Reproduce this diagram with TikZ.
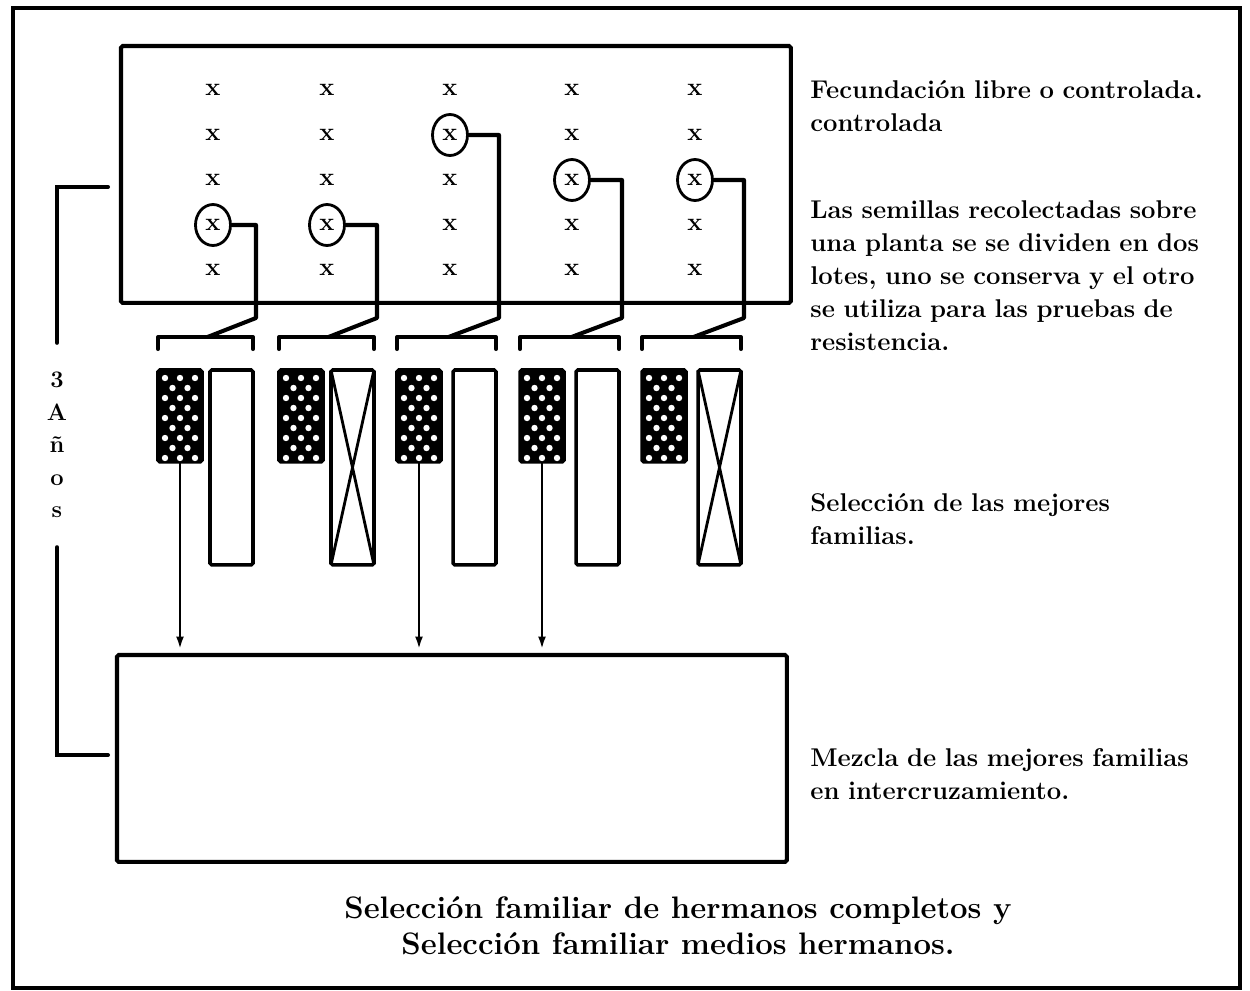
\documentclass[tikz,border=0pt]{standalone}
\usepackage{fontspec}
\usepackage{tikz}
\usetikzlibrary{arrows.meta,positioning,shapes.geometric}
\tikzset{
  frame/.style={line width=2.3pt},
  box/.style={rectangle, draw, line width=2.3pt, rounded corners=1pt, inner sep=0pt, outer sep=0pt, anchor=north west},
  seedmark/.style={font=\Large\bfseries, inner sep=0pt},
  ring/.style={ellipse, draw, line width=1.6pt, minimum width=0.7cm, minimum height=0.82cm, inner sep=0pt},
  link/.style={line width=2.3pt, line join=round, line cap=round},
  bracket/.style={line width=2.3pt, line cap=round, line join=round},
  lot/.style={rectangle, draw, line width=2pt, rounded corners=1pt, inner sep=0pt, outer sep=0pt, anchor=north west},
  kept/.style={lot, fill=black, minimum width=0.88cm, minimum height=1.84cm},
  tested/.style={lot, minimum width=0.86cm, minimum height=3.9cm},
  arrow/.style={-{Latex[length=2.5mm,width=1.6mm]}, line width=1.3pt},
  yearline/.style={line width=2.3pt, line cap=round},
  years/.style={align=center, inner xsep=0pt, inner ysep=0.58cm, font=\bfseries\fontsize{13.5}{18.5}\selectfont},
  note/.style={anchor=north west, inner sep=0pt, align=left, text width=8.6cm, font=\bfseries\fontsize{14.6}{18.8}\selectfont},
  caption/.style={align=center, inner sep=0pt, font=\bfseries\fontsize{17.7}{20.5}\selectfont},
}

\begin{document}
\begin{tikzpicture}[x=0.02cm, y=-0.02cm]
\useasboundingbox (0,0) rectangle (1250,990);
\draw[frame] (13,8) rectangle (1240,988);
% field with the plants
\node[box, minimum width=13.4cm, minimum height=5.14cm] (field) at (121,46) {};
\foreach \x [count=\i] in {213,327,450,572,695}
  \foreach \y [count=\j] in {90,135,180,225,270}
    \node[seedmark] (s\i-\j) at (\x,\y) {x};
% chosen plants and their two seed lots
\foreach \r/\L/\R [count=\i] in {4/158/253, 4/279/374, 2/397/496, 3/520/619, 3/642/741} {
  \node[ring] (c\i) at (s\i-\r) {};
  \coordinate (b\i) at ({(\L+\R)/2+2},337);
  \draw[bracket] (\L,349) -- (\L,337) -- (\R,337) -- (\R,349);
  \draw[link] (c\i.east) -| ({\R+3},318) -- (b\i);
  \node[kept] (k\i) at (\L,370) {};
  \node[tested] (t\i) at ({\R-43},370) {};
  \foreach \k in {0,2,4,6,8}
    \foreach \dx in {7,22,37}
      \fill[white] ({\L+\dx},{378+10*\k}) circle[radius=3.2];
  \foreach \k in {1,3,5,7}
    \foreach \dx in {14.5,29.5}
      \fill[white] ({\L+\dx},{378+10*\k}) circle[radius=3.2];
}
\foreach \i in {2,5}
  \draw[line width=1.6pt] (t\i.north west) -- (t\i.south east) (t\i.north east) -- (t\i.south west);
% mixing of the best families
\node[box, minimum width=13.4cm, minimum height=4.14cm] (mix) at (117,655) {};
\foreach \i in {1,3,4}
  \draw[arrow] (k\i.south) -- ([yshift=1.2mm]k\i.south |- mix.north);
% cycle length
\node[years] (cycle) at (57,445) {3\\A\\ñ\\o\\s};
\draw[yearline] (cycle.north) |- (108,187);
\draw[yearline] (cycle.south) |- (108,755);
% notes
\node[note] (n1) at (810,80) {Fecundación libre o controlada.\\controlada};
\node[note] (n2) at (810,200) {Las semillas recolectadas sobre\\una planta se se dividen en dos\\lotes, uno se conserva y el otro\\se utiliza para las pruebas de\\resistencia.};
\node[note] (n3) at (810,493) {Selección de las mejores\\familias.};
\node[note] (n4) at (810,748) {Mezcla de las mejores familias\\en intercruzamiento.};
\node[caption] (title) at (678,926) {Selección familiar de hermanos completos y\\Selección familiar medios hermanos.};
\end{tikzpicture}
\end{document}
